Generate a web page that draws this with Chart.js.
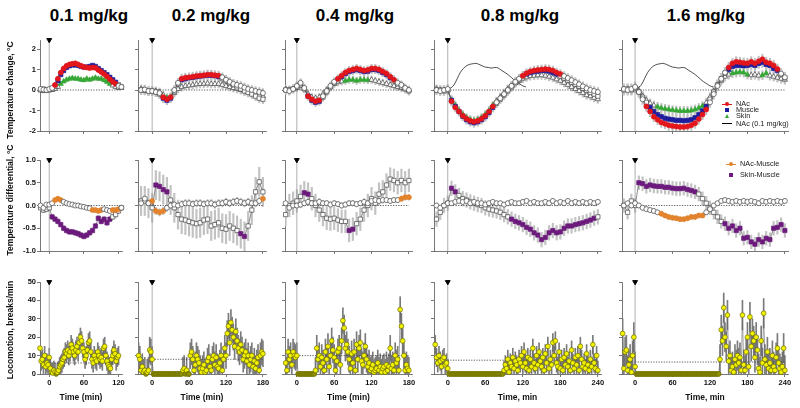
<!DOCTYPE html>
<html>
<head>
<meta charset="utf-8">
<script src="https://cdn.jsdelivr.net/npm/chart.js@4/dist/chart.umd.min.js"></script>
<style>
  body { margin: 0; width: 800px; height: 408px; position: relative; overflow: hidden; background: #fff;
         font-family: 'Liberation Sans', Arial, sans-serif; }
  canvas { position: absolute; }
  .ttl { position: absolute; top: 7px; font-size: 17px; line-height: 17px; font-weight: bold; color: #000;
         transform: translateX(-50%); white-space: nowrap; }
  .ytl { position: absolute; font-size: 8.5px; line-height: 9px; font-weight: bold; color: #111;
         transform: translate(-50%, -50%) rotate(-90deg); white-space: nowrap; }
  .lt { position: absolute; font-size: 7.3px; line-height: 7.3px; color: #222; white-space: nowrap; }
  .mk { position: absolute; }
</style>
</head>
<body>
<script>
'use strict';

// ---- labels and ticks
const doses = ['0.1 mg/kg', '0.2 mg/kg', '0.4 mg/kg', '0.8 mg/kg', '1.6 mg/kg'];
const timeTitles = ['Time (min)', 'Time (min)', 'Time (min)', 'Time, min', 'Time, min'];
const rowTitles = ['Temperature change, °C', 'Temperature differential, °C', 'Locomotion, breaks/min'];
const timeTicks = [[0, 60, 120], [0, 60, 120, 180], [0, 60, 120, 180], [0, 60, 120, 180, 240], [0, 60, 120, 180, 240]];
const tempTicks = [-2, -1, 0, 1, 2];
const diffTicks = [-1, -0.5, 0, 0.5, 1];
const locoTicks = [0, 10, 20, 30, 40, 50];
const tempLabels = ['NAc', 'Muscle', 'Skin', 'NAc (0.1 mg/kg)'];
const diffLabels = ['NAc-Muscle', 'Skin-Muscle'];

// sampling of the records (first time point, step in min)
const tempStart = [-15, -18, -18, -18, -18];
const tempStep = [5, 6, 6, 6, 6];
const locoStart = [-16, -22, -18, -20, -20];
const locoStep = 2;

// ---- temperature change, one array per dose
const nac = [
  [0.05,0.02,0.0,0.05, 0.1,0.25,0.55,0.85,1.05,1.18,1.25,1.28,1.3,1.25,1.18,1.12,1.1,1.07,1.1,1.08,0.98,0.88,0.78,0.66,0.52,0.4,0.3,0.2,0.15],
  [0.0,0.02,-0.05,-0.05, -0.1,-0.15,-0.35,-0.45,-0.35,0.0,0.35,0.55,0.6,0.62, 0.65,0.68,0.7,0.72,0.75,0.75,0.72,0.7,0.62,0.5, 0.4,0.3,0.25,0.2,0.12,0.05,0.0,-0.05,-0.1,-0.15],
  [0.0,-0.05,0.05,0.2, 0.35,0.1,-0.3,-0.45,-0.55,-0.5,-0.3,-0.05,0.2,0.4, 0.55,0.7,0.85,0.95,1.0,1.05,1.0,0.95,0.98,1.05, 1.05,1.0,0.9,0.8,0.65,0.5,0.35,0.25,0.1,0.0],
  [0.0,-0.05,0.0,0.05, -0.55,-0.85,-1.05,-1.25,-1.4,-1.5,-1.55,-1.5,-1.4,-1.25, -1.05,-0.8,-0.6,-0.4,-0.2,0.0,0.2,0.4,0.55,0.7, 0.82,0.9,0.95,0.98,1.0,1.02,1.0,0.95,0.85,0.78, 0.68,0.58,0.48,0.38,0.28,0.18,0.08,0.0,-0.05,-0.1],
  [0.05,0.0,0.05,0.15, -0.1,-0.45,-0.8,-1.05,-1.3,-1.45,-1.58,-1.65,-1.72,-1.76, -1.78,-1.8,-1.8,-1.78,-1.72,-1.62,-1.42,-1.2,-0.95,-0.6, -0.2,0.2,0.55,0.85,1.1,1.3,1.38,1.35,1.32,1.3, 1.38,1.3,1.4,1.5,1.35,1.3,1.2,1.02,0.8,0.62]
];
const muscle = [
  [0.0,0.05,0.0,0.0, 0.05,0.2,0.45,0.75,0.95,1.1,1.18,1.22,1.22,1.2,1.15,1.12,1.12,1.15,1.2,1.15,1.05,0.95,0.85,0.75,0.62,0.5,0.38,0.25,0.15],
  [0.0,-0.02,-0.05,-0.05, -0.1,-0.2,-0.4,-0.5,-0.4,-0.05,0.3,0.5,0.55,0.6, 0.62,0.65,0.68,0.7,0.72,0.72,0.7,0.65,0.55,0.45, 0.35,0.25,0.15,0.05,-0.05,-0.12,-0.2,-0.3,-0.4,-0.45],
  [0.0,0.0,0.05,0.15, 0.3,0.05,-0.3,-0.5,-0.6,-0.55,-0.35,-0.1,0.15,0.35, 0.5,0.65,0.8,0.9,0.95,1.0,0.95,0.9,0.92,1.0, 1.0,0.95,0.85,0.75,0.6,0.45,0.3,0.2,0.05,-0.05],
  [0.0,0.0,-0.05,0.0, -0.5,-0.8,-1.05,-1.28,-1.45,-1.55,-1.6,-1.55,-1.45,-1.3, -1.1,-0.85,-0.65,-0.45,-0.25,-0.05,0.15,0.35,0.5,0.65, 0.78,0.85,0.9,0.92,0.95,0.95,0.92,0.85,0.78,0.68, 0.58,0.48,0.38,0.28,0.18,0.08,-0.02,-0.12,-0.2,-0.3],
  [0.0,0.05,0.0,0.1, -0.1,-0.35,-0.6,-0.85,-1.05,-1.2,-1.3,-1.38,-1.42,-1.45, -1.48,-1.48,-1.5,-1.48,-1.45,-1.35,-1.2,-1.02,-0.8,-0.45, -0.1,0.25,0.55,0.82,1.0,1.15,1.2,1.2,1.18,1.2, 1.25,1.2,1.3,1.35,1.25,1.2,1.05,0.95,0.75,0.6]
];
const skin = [
  [0.0,-0.05,-0.05,0.0, 0.0,0.05,0.15,0.3,0.42,0.5,0.55,0.58,0.55,0.55,0.5,0.48,0.55,0.5,0.55,0.6,0.55,0.55,0.48,0.4,0.3,0.22,0.15,0.1,0.1],
  [0.05,0.0,-0.05,-0.05, -0.05,-0.1,-0.25,-0.38,-0.35,-0.15,0.05,0.15,0.2,0.22, 0.25,0.28,0.3,0.3,0.32,0.3,0.3,0.3,0.25,0.2, 0.15,0.1,0.05,0.0,-0.05,-0.1,-0.15,-0.2,-0.25,-0.3],
  [0.05,0.0,0.05,0.1, 0.2,0.05,-0.2,-0.35,-0.4,-0.35,-0.2,0.0,0.15,0.3, 0.38,0.42,0.45,0.5,0.5,0.45,0.5,0.5,0.48,0.5, 0.45,0.4,0.35,0.3,0.25,0.2,0.15,0.1,0.05,0.0],
  [0.05,0.0,0.0,0.0, -0.5,-0.75,-1.0,-1.2,-1.35,-1.45,-1.5,-1.45,-1.35,-1.2, -1.0,-0.75,-0.55,-0.35,-0.15,0.05,0.2,0.35,0.45,0.55, 0.62,0.68,0.7,0.72,0.72,0.7,0.65,0.6,0.52,0.45, 0.35,0.25,0.15,0.05,-0.05,-0.15,-0.25,-0.3,-0.38,-0.45],
  [0.05,0.05,0.0,0.1, -0.05,-0.3,-0.5,-0.65,-0.75,-0.82,-0.88,-0.92,-0.95,-0.98, -1.0,-1.02,-1.02,-1.02,-1.0,-0.95,-0.88,-0.78,-0.62,-0.35, -0.05,0.25,0.45,0.65,0.75,0.82,0.85,0.88,0.85,0.75, 0.72,0.75,0.7,0.72,0.82,0.7,0.65,0.6,0.55,0.5]
];
// significant periods (min)
const nacSig = [[[10,115]], [[18,30],[45,110]], [[18,36],[66,156]], [[6,74],[120,180]], [[18,114],[148,230]]];
const muscleSig = [[[15,115]], [[18,30],[48,108]], [[18,36],[72,150]], [[6,72],[126,176]], [[24,114],[150,228]]];
const skinSig = [[[20,105]], [[24,30]], [[78,114]], [[6,76]], [[36,112],[156,180],[204,210]]];
const tempSem = [[0.08,0.08,0.08], [0.22,0.22,0.2], [0.2,0.2,0.18], [0.22,0.22,0.2], [0.25,0.25,0.22]];

// ---- temperature differentials
const nacMuscle = [
  [0.0,-0.05,0.02,0.02, 0.05,0.12,0.15,0.12,0.08,0.05,0.03,0.02,0.0,0.0, -0.02,-0.03,-0.05,-0.06,-0.1,-0.1,-0.12,-0.1,-0.08,-0.1, -0.12,-0.1,-0.1,-0.08,-0.05],
  [0.05,0.15,0.05,0.1, -0.12,-0.15,-0.12,-0.05,0.0,0.02,0.0,0.03,0.05,0.05, 0.03,0.05,0.05,0.03,0.05,0.05,0.02,0.05,0.05,0.08, 0.05,0.08,0.1,0.08,0.05,0.08,0.05,0.05,0.1,0.15],
  [0.05,-0.05,0.0,0.0, 0.02,0.05,0.08,0.05,0.05,0.08,0.05,0.05,0.02,0.05, 0.03,0.0,0.02,0.05,0.05,0.03,0.05,0.08,0.05,0.1, 0.12,0.1,0.12,0.12,0.1,0.12,0.12,0.15,0.18,0.18],
  [0.0,-0.05,0.0,0.05, 0.05,0.08,0.1,0.08,0.1,0.05,0.08,0.05,0.05,0.02, 0.05,0.08,0.05,0.05,0.02,0.05,0.08,0.05,0.05,0.08, 0.1,0.05,0.08,0.05,0.05,0.08,0.05,0.1,0.05,0.08, 0.05,0.1,0.05,0.08,0.05,0.08,0.05,0.08,0.05,0.08],
  [0.0,0.05,0.0,0.05, 0.0,-0.05,-0.08,-0.1,-0.12,-0.15,-0.18,-0.22,-0.25,-0.27, -0.28,-0.3,-0.3,-0.28,-0.25,-0.25,-0.22,-0.22,-0.15,-0.08, 0.0,0.05,0.1,0.12,0.1,0.08,0.1,0.08,0.1,0.08, 0.1,0.08,0.05,0.1,0.08,0.1,0.08,0.1,0.08,0.1]
];
const skinMuscle = [
  [-0.05,-0.1,-0.08,-0.05, -0.25,-0.3,-0.35,-0.42,-0.5,-0.55,-0.58,-0.58,-0.6,-0.62, -0.65,-0.68,-0.65,-0.6,-0.55,-0.45,-0.28,-0.35,-0.3,-0.38, -0.3,-0.25,-0.2,-0.12,-0.05],
  [0.1,0.1,0.05,-0.05, 0.45,0.42,0.35,0.3,0.12,-0.05,-0.2,-0.3,-0.32,-0.35, -0.38,-0.4,-0.38,-0.32,-0.3,-0.45,-0.42,-0.38,-0.5,-0.52, -0.45,-0.5,-0.55,-0.62,-0.68,-0.45,-0.1,0.3,0.52,0.3],
  [-0.2,0.0,0.05,0.1, 0.2,0.28,0.25,0.15,0.0,-0.1,-0.2,-0.28,-0.3,-0.28, -0.32,-0.35,-0.35,-0.55,-0.52,-0.4,-0.3,-0.1,0.0,0.15, 0.05,0.25,0.3,0.45,0.58,0.55,0.5,0.55,0.5,0.55],
  [-0.3,-0.15,0.0,0.05, 0.38,0.3,0.22,0.15,0.12,0.08,0.05,0.02,0.0,-0.05, -0.08,-0.1,-0.12,-0.15,-0.2,-0.25,-0.3,-0.35,-0.38,-0.42, -0.48,-0.52,-0.6,-0.65,-0.75,-0.7,-0.6,-0.55,-0.6,-0.58, -0.5,-0.45,-0.45,-0.42,-0.4,-0.38,-0.35,-0.32,-0.28,-0.25],
  [0.0,-0.15,0.1,0.0, 0.5,0.48,0.42,0.45,0.43,0.42,0.42,0.4,0.4,0.38, 0.37,0.37,0.38,0.35,0.33,0.3,0.25,0.15,0.05,-0.05, -0.15,-0.25,-0.35,-0.4,-0.5,-0.45,-0.55,-0.5,-0.72,-0.7, -0.8,-0.85,-0.75,-0.8,-0.72,-0.75,-0.5,-0.48,-0.42,-0.55]
];
const nacMuscleSig = [[[10,20],[75,90],[110,120]], [[0,0],[6,18],[180,180]], [[168,180]], [], [[42,110]]];
const skinMuscleSig = [[[5,105]], [[6,24],[144,150]], [[12,18],[84,90]], [[6,12],[102,234]], [[6,100],[144,240]]];
const diffSem = [[0.04,0.06], [0.08,0.32], [0.06,0.25], [0.05,0.16], [0.05,0.15]];

// ---- locomotion (breaks/min), 2-min bins
const loco = [
  [14,7,8,5,10,4,6,5,9, 3,1,0.5,2,1,0,1,2,4,5, 6,8,9,12,11,13,10,12,16,14, 12,10,13,15,12,17,20,18,14,12,
   8,10,13,17,18,12,8,6,10,8, 7,12,10,8,9,7,14,15,10,7, 5,4,3,8,10,13,11,7,9,10],
  [10,8,2,4,1,2,0,1,2,13,12,8,
   0,0,0,0,0,0,0,0,0,0,0,0,0,0,0,0,0,0,0,0,0,0,0,
   0,2,3,0,2,0,0,
   10,12,8,2,5,10,8,6,3,1, 3,5,1,2,7,9,4,2,8,10, 5,9,4,3,6,10,2,8,14,10, 22,26,17,28,24,20,15,23,18,14,
   12,16,13,8,10,12,7,10,5,8, 10,4,7,3,6,9,2,10,12,11],
  [6,2,12,8,10,5,12,10,9,10,
   0,0,0,0,0,0,0,0,0,0,0,0,0,0,
   2,14,8,10,4,9,6,2,12,8, 15,4,10,18,13,9,2,7,12,14, 5,18,29,25,14,16,12,8,3,11, 6,12,2,16,8,14,17,7,5,10,
   15,8,4,6,2,3,5,1,2,3, 6,2,4,1,3,4,1,5,2,4, 14,3,5,2,10,6,8,2,35,26, 18,10,2,5,3,2],
  [16,9,6,10,7,4,8,9,5,6,3,
   0,0,0,0,0,0,0,0,0,0,0,0,0,0,0,0,0,0,0,0,0,0,0,0,0,0,0,0,0,0,0,0,0,0,0,0,0,0,0,0,0,0,0,0,
   2,5,3,8,1,6,4,9,3,7, 5,2,8,6,10,4,12,6,3,9, 2,8,4,14,6,3,10,5,12,7, 4,9,2,11,6,15,3,8,5,17,
   10,18,6,4,12,3,8,2,9,5, 11,4,7,2,13,6,3,9,5,10, 2,15,8,4,6,3,11,5,2,8, 4,16,6,3,10,2],
  [22,3,12,13,2,5,8,1,10,20,4,
   0,0,0,0,0,0,0,0,0,0,0,0,0,0,0,0,0,0,0,0,0,0,0,0,0,0,0,0,0,0,0,0,0,0,0,0,0,0,0,0,0,0,0,0,
   0,0,0,0,0,0,0,0,0,0,0,0,0,0,0,0,0,0,0,0,0,0,0,
   8,24,18,36,20,15,32,7,10,2, 4,1,8,5,10,6,9,2,32,5, 2,12,20,4,31,15,22,18,9,20,
   13,3,1,18,6,33,8,5,12,3, 6,2,10,4,2,9,14,6,3,1, 4,14,2]
];
const locoBase = [6, 8, 10, 7.5, 6.5];
const locoSem = [5, 7, 7, 5, 8];

// ---- layout
const F = "'Liberation Sans', Arial, sans-serif";
const colLeft = [40, 138, 285, 434, 622];
const colRight = [122, 266, 412, 601, 788];
const colXMin = [-16, -23, -19, -22, -21];
const colXMax = [126, 185, 185, 245, 245];
const rowTop = [40, 160, 282];
const rowBottom = [131, 251, 374];
const rowMin = [-2, -1, 0];
const rowMax = [2.44, 1, 50];
const rowTicks = [tempTicks, diffTicks, locoTicks];
const titleX = [89, 211, 355, 520, 706];
const rowTitleY = [90, 200, 330];

const RED = '#e3161b', BLUE = '#1d1d9e', GREEN = '#34a834', ORANGE = '#e3832c', PURPLE = '#6c1a7c';

function inRanges(t, ranges) { return ranges.some(r => t >= r[0] && t <= r[1]); }

function markSeries(times, vals, sig, color, shape, sem, ord) {
  const rad = shape === 'circle' ? 2.5 : 3.0;
  return [
    { type: 'bar', data: times.map((t, i) => ({ x: t, y: [vals[i] - sem, vals[i] + sem] })),
      backgroundColor: '#c2c2c2', barThickness: 1.5, grouped: false, order: 20 },
    { type: 'line', data: times.map((t, i) => ({ x: t, y: vals[i] })),
      borderColor: '#444', borderWidth: 0.6, pointStyle: shape, pointRadius: rad,
      pointBackgroundColor: times.map(t => inRanges(t, sig) ? color : '#fff'),
      pointBorderColor: times.map(t => inRanges(t, sig) ? color : '#444'),
      pointBorderWidth: 0.7, clip: false, order: ord }
  ];
}

function guides(c, r, baseY, endX) {
  return [
    { type: 'line', data: [{ x: 0, y: rowMin[r] }, { x: 0, y: rowMax[r] }],
      borderColor: '#9a9a9a', borderWidth: 0.8, pointRadius: 0, order: 15 },
    { type: 'line', data: [{ x: 0, y: baseY }, { x: endX, y: baseY }],
      borderColor: '#333', borderWidth: 0.8, borderDash: [1.2, 1.4], pointRadius: 0, order: 14 },
    { type: 'line', data: [{ x: 0, y: rowMax[r] }], pointStyle: 'triangle', rotation: 180,
      pointRadius: 2.8, pointBackgroundColor: '#000', pointBorderColor: '#000', showLine: false,
      clip: false, order: 0 }
  ];
}

function panel(c, r, datasets) {
  const yW = c === 0 ? 40 : 6, padT = 6, padR = 5, xH = r === 2 ? 32 : 5;
  const w = yW + colRight[c] - colLeft[c] + padR;
  const h = padT + rowBottom[r] - rowTop[r] + xH;
  const cv = document.createElement('canvas');
  cv.width = w; cv.height = h;
  cv.style.width = w + 'px'; cv.style.height = h + 'px';
  cv.style.left = (colLeft[c] - yW) + 'px';
  cv.style.top = (rowTop[r] - padT) + 'px';
  document.body.appendChild(cv);
  const axisGrid = { drawOnChartArea: false, tickLength: 3, color: '#555', lineWidth: 0.8, offset: false };
  const axisBorder = { color: '#555', width: 0.8 };
  const tickFont = { family: F, size: 7.5, weight: 'bold' };
  return new Chart(cv, {
    type: 'line',
    data: { datasets },
    options: {
      responsive: false, animation: false, devicePixelRatio: 1,
      layout: { padding: { left: 0, top: padT, right: padR, bottom: 0 } },
      plugins: { legend: { display: false }, tooltip: { enabled: false } },
      scales: {
        x: {
          type: 'linear', min: colXMin[c], max: colXMax[c], offset: false,
          afterFit: s => { s.height = xH; s.paddingLeft = 0; s.paddingRight = 0; },
          afterBuildTicks: s => { s.ticks = timeTicks[c].map(v => ({ value: v })); },
          grid: axisGrid, border: axisBorder,
          ticks: { display: r === 2, padding: 1, font: tickFont, color: '#111', maxRotation: 0, autoSkip: false },
          title: { display: r === 2, text: timeTitles[c], color: '#111',
                   font: { family: F, size: 8.5, weight: 'bold' }, padding: { top: 0, bottom: 3 } }
        },
        y: {
          type: 'linear', min: rowMin[r], max: rowMax[r],
          afterFit: s => { s.width = yW; s.paddingTop = 0; s.paddingBottom = 0; },
          afterBuildTicks: s => { s.ticks = rowTicks[r].map(v => ({ value: v })); },
          grid: axisGrid, border: axisBorder,
          ticks: { display: c === 0, padding: 1, font: tickFont, color: '#111', autoSkip: false,
                   callback: v => r === 1 ? v.toFixed(1) : String(v) }
        }
      }
    }
  });
}

// ---- build the 15 panels
const refTimes = nac[0].map((_, i) => tempStart[0] + tempStep[0] * i);
const refLine = {
  type: 'line',
  data: refTimes.map((t, i) => ({ x: t, y: nac[0][i] })).filter(p => p.x >= 0),
  borderColor: '#000', borderWidth: 0.7, pointRadius: 0, tension: 0.3, order: 12
};

for (let c = 0; c < 5; c++) {
  const tt = nac[c].map((_, i) => tempStart[c] + tempStep[c] * i);
  const endT = tt[tt.length - 1];

  const d1 = [].concat(
    markSeries(tt, nac[c], nacSig[c], RED, 'circle', tempSem[c][0], 3),
    markSeries(tt, muscle[c], muscleSig[c], BLUE, 'rect', tempSem[c][1], 4),
    markSeries(tt, skin[c], skinSig[c], GREEN, 'triangle', tempSem[c][2], 5),
    guides(c, 0, 0, endT)
  );
  if (c >= 3) d1.push(Object.assign({}, refLine));
  panel(c, 0, d1);

  const d2 = [].concat(
    markSeries(tt, nacMuscle[c], nacMuscleSig[c], ORANGE, 'circle', diffSem[c][0], 3),
    markSeries(tt, skinMuscle[c], skinMuscleSig[c], PURPLE, 'rect', diffSem[c][1], 4),
    guides(c, 1, 0, endT)
  );
  panel(c, 1, d2);

  const lt = loco[c].map((_, i) => locoStart[c] + locoStep * i);
  const s = locoSem[c];
  const d3 = [
    { type: 'bar', grouped: false, barThickness: 1, backgroundColor: '#7a7a7a', order: 20,
      data: lt.map((t, i) => loco[c][i] > 0 ? { x: t, y: [Math.max(0, loco[c][i] - s), loco[c][i] + s] } : null)
              .filter(Boolean) },
    { type: 'line', data: lt.map((t, i) => ({ x: t, y: loco[c][i] })),
      borderColor: '#666', borderWidth: 0.6, pointStyle: 'circle', pointRadius: 2.4,
      pointBackgroundColor: loco[c].map(v => v === 0 ? '#8f8f00' : '#f2f200'),
      pointBorderColor: '#6e6e00', pointBorderWidth: 0.7, clip: false, order: 3 }
  ].concat(guides(c, 2, locoBase[c], lt[lt.length - 1]));
  panel(c, 2, d3);

  const t = document.createElement('div');
  t.className = 'ttl';
  t.style.left = titleX[c] + 'px';
  t.textContent = doses[c];
  document.body.appendChild(t);
}

// ---- row titles (rotated)
rowTitles.forEach((txt, r) => {
  const d = document.createElement('div');
  d.className = 'ytl';
  d.style.left = '10px';
  d.style.top = rowTitleY[r] + 'px';
  d.textContent = txt;
  document.body.appendChild(d);
});

// ---- legends
function legendItem(x, y, label, mark, color) {
  const m = document.createElement('div');
  m.className = 'mk';
  if (mark === 'line' || mark === 'lineDot') {
    m.style.left = (x - 5) + 'px'; m.style.top = (y - 0.4) + 'px';
    m.style.width = '10px'; m.style.height = '0.8px'; m.style.background = color;
    document.body.appendChild(m);
  }
  if (mark === 'lineDot' || mark === 'circle') {
    const d = document.createElement('div');
    d.className = 'mk';
    Object.assign(d.style, { left: (x - 2) + 'px', top: (y - 2) + 'px', width: '4px', height: '4px',
                             borderRadius: '50%', background: color });
    document.body.appendChild(d);
  } else if (mark === 'square') {
    Object.assign(m.style, { left: (x - 2) + 'px', top: (y - 2) + 'px', width: '4px', height: '4px', background: color });
    document.body.appendChild(m);
  } else if (mark === 'triangle') {
    Object.assign(m.style, { left: (x - 2.5) + 'px', top: (y - 2.2) + 'px', width: 0, height: 0,
                             borderLeft: '2.5px solid transparent', borderRight: '2.5px solid transparent',
                             borderBottom: '4.2px solid ' + color });
    document.body.appendChild(m);
  }
  const l = document.createElement('div');
  l.className = 'lt';
  l.style.left = (x + 9) + 'px'; l.style.top = (y - 4) + 'px';
  l.textContent = label;
  document.body.appendChild(l);
}
legendItem(727, 104, tempLabels[0], 'lineDot', RED);
legendItem(727, 110, tempLabels[1], 'square', BLUE);
legendItem(727, 116, tempLabels[2], 'triangle', GREEN);
legendItem(727, 123.5, tempLabels[3], 'line', '#000');
legendItem(731, 164, diffLabels[0], 'lineDot', ORANGE);
legendItem(731, 175, diffLabels[1], 'square', PURPLE);
</script>
</body>
</html>
